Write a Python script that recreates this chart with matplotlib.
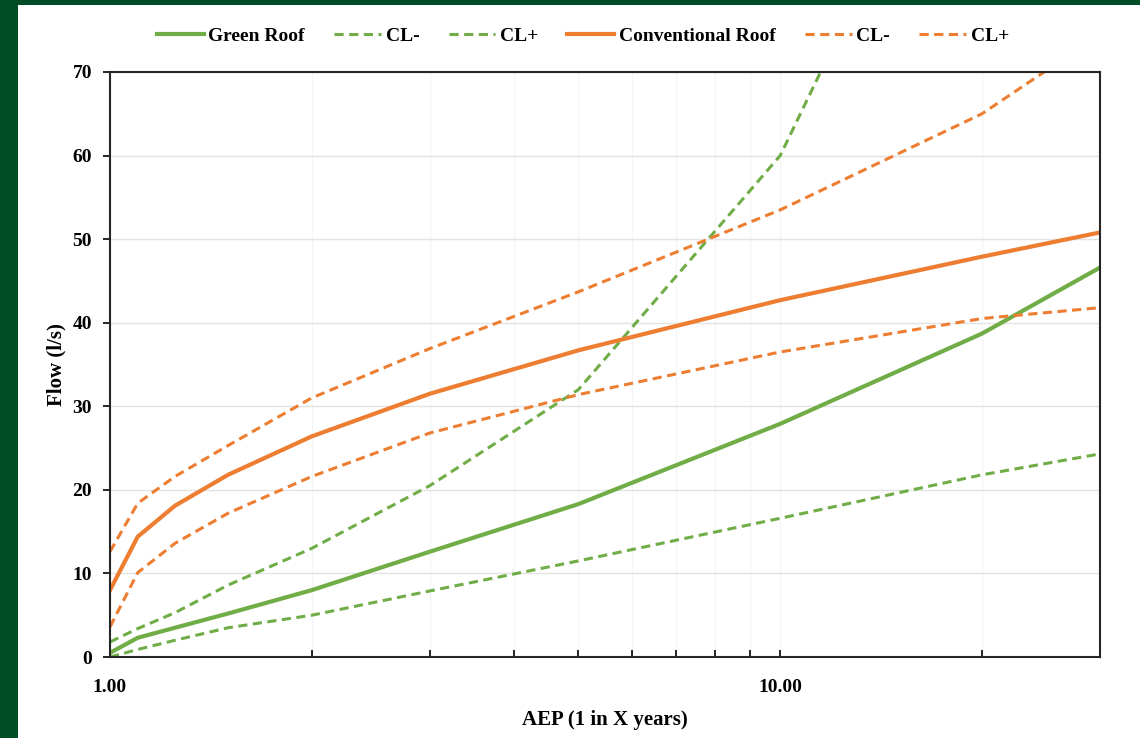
import numpy as np
import matplotlib
matplotlib.use('Agg')
import matplotlib.pyplot as plt
from matplotlib.patches import Rectangle
from matplotlib.ticker import FixedLocator, FormatStrFormatter, NullFormatter

plt.rcParams['font.family'] = ['Liberation Serif', 'DejaVu Serif']
plt.rcParams['font.weight'] = 'bold'

# AEP (1 in X years)
aep = [1.0, 1.1, 1.25, 1.5, 2, 3, 5, 10, 20, 30]

green_roof = [0.5, 2.3, 3.5, 5.2, 8.0, 12.6, 18.3, 27.9, 38.7, 46.6]
green_lo = [0.0, 0.9, 2.0, 3.5, 5.0, 7.9, 11.5, 16.6, 21.8, 24.3]
green_hi = [1.8, 3.4, 5.3, 8.6, 13.0, 20.5, 32.0, 60.0, 110.0, 150.0]

conv_roof = [8.0, 14.4, 18.1, 21.8, 26.4, 31.5, 36.7, 42.7, 47.9, 50.8]
conv_lo = [3.6, 10.1, 13.6, 17.2, 21.6, 26.8, 31.4, 36.5, 40.5, 41.8]
conv_hi = [12.6, 18.4, 21.6, 25.3, 31.0, 36.9, 43.7, 53.5, 65.0, 74.5]

green = '#70AD47'
orange = '#ED7D31'
border = '#004D25'

fig = plt.figure(figsize=(11.4, 7.38), dpi=100)
fig.patch.set_facecolor(border)
# white card inside the dark green frame
fig.add_artist(Rectangle((18 / 1140, 0), 1 - 18 / 1140, 1 - 5 / 738,
                         transform=fig.transFigure, facecolor='white', edgecolor='none', zorder=0))

ax = fig.add_axes([110 / 1140, 1 - 657 / 738, 990 / 1140, 585 / 738])
ax.set_facecolor('white')

dash = (0, (3.0, 1.8))
ax.plot(aep, green_roof, color=green, lw=3.0, label='Green Roof', solid_joinstyle='round')
ax.plot(aep, green_lo, color=green, lw=2.2, linestyle=dash, label='CL-')
ax.plot(aep, green_hi, color=green, lw=2.2, linestyle=dash, label='CL+')
ax.plot(aep, conv_roof, color=orange, lw=3.0, label='Conventional Roof', solid_joinstyle='round')
ax.plot(aep, conv_lo, color=orange, lw=2.2, linestyle=dash, label='CL-')
ax.plot(aep, conv_hi, color=orange, lw=2.2, linestyle=dash, label='CL+')

ax.set_xscale('log')
ax.set_xlim(1, 30)
ax.set_ylim(0, 70)

ax.xaxis.set_major_locator(FixedLocator([1, 10]))
ax.xaxis.set_major_formatter(FormatStrFormatter('%.2f'))
ax.xaxis.set_minor_locator(FixedLocator([2, 3, 4, 5, 6, 7, 8, 9, 20]))
ax.xaxis.set_minor_formatter(NullFormatter())
ax.set_yticks(np.arange(0, 71, 10))

ax.tick_params(axis='x', which='both', direction='in', length=5, width=1.2, labelsize=14, pad=16)
ax.tick_params(axis='y', which='major', direction='out', length=5, width=1.2, labelsize=14, pad=8)

ax.grid(axis='y', which='major', color='#E3E3E3', lw=1.0)
ax.grid(axis='x', which='both', color='#F5F5F5', lw=1.0)
ax.set_axisbelow(True)

for s in ax.spines.values():
    s.set_linewidth(1.5)
    s.set_color('#262626')

ax.set_xlabel('AEP (1 in X years)', fontsize=15, fontweight='bold', labelpad=10)
ax.set_ylabel('Flow (l/s)', fontsize=15, fontweight='bold', labelpad=4)

fig.legend(loc='center', bbox_to_anchor=(583 / 1140, 1 - 36 / 738), ncol=6, frameon=False,
           fontsize=14, handlelength=2.4, handletextpad=0.25, columnspacing=1.5)

fig.savefig('out.png', dpi=100, facecolor=fig.get_facecolor())
